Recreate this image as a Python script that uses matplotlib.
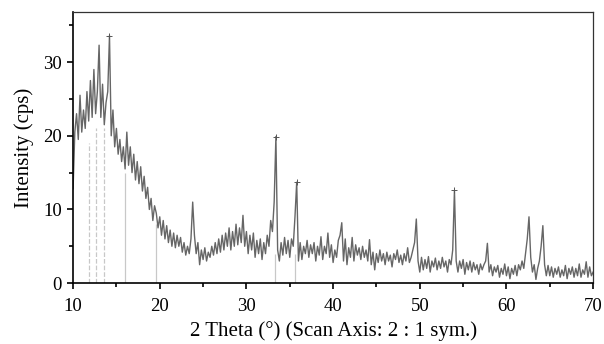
import numpy as np
import matplotlib
matplotlib.use('Agg')
import matplotlib.pyplot as plt
from matplotlib.ticker import MultipleLocator

plt.rcParams['font.family'] = ['Liberation Serif', 'DejaVu Serif']
plt.rcParams['font.size'] = 13.5

# 2 theta from 10 to 70 deg, 0.2 deg step
two_theta = np.round(np.arange(10.0, 70.0001, 0.2), 1)
intensity = [
    12.8, 20.5, 23.0, 19.5, 25.5, 20.5, 23.5, 21.0, 26.0, 22.0,
    27.5, 22.5, 29.0, 23.0, 26.0, 32.3, 22.5, 27.0, 21.5, 24.5,
    26.0, 33.6, 20.0, 23.5, 18.5, 21.0, 17.5, 19.5, 16.5, 18.5,
    15.5, 20.5, 16.0, 18.5, 15.0, 17.5, 14.0, 16.5, 13.5, 15.8,
    12.5, 14.5, 11.5, 13.0, 10.0, 11.5, 8.5, 10.5, 9.5, 7.5,
    9.0, 6.5, 8.5, 6.0, 7.8, 5.5, 7.2, 5.0, 6.8, 4.8,
    6.5, 5.0, 6.2, 4.2, 5.5, 3.8, 5.0, 4.0, 6.0, 11.0,
    6.5, 4.0, 5.5, 2.5, 4.5, 3.2, 4.8, 3.0, 4.2, 3.5,
    5.0, 3.8, 5.5, 4.0, 6.0, 4.2, 6.5, 4.5, 6.8, 5.0,
    7.5, 4.5, 7.0, 5.0, 8.0, 5.2, 7.5, 5.5, 9.2, 5.0,
    7.0, 4.0, 6.5, 4.5, 6.8, 3.5, 5.8, 4.0, 6.0, 3.2,
    5.5, 4.0, 6.5, 5.0, 8.5, 7.0, 11.0, 19.9, 4.5, 3.0,
    5.5, 3.8, 6.2, 4.0, 5.8, 3.5, 6.0, 5.0, 9.0, 13.7,
    3.0, 5.5, 3.2, 5.0, 4.0, 5.8, 3.5, 5.2, 4.0, 5.5,
    3.0, 5.0, 3.8, 6.3, 3.2, 5.0, 4.0, 6.8, 3.5, 5.2,
    2.8, 4.5, 3.5, 5.8, 6.5, 8.2, 3.0, 6.0, 2.5, 4.8,
    3.5, 6.2, 3.0, 5.2, 3.8, 4.8, 3.2, 5.0, 3.5, 4.5,
    3.0, 5.9, 2.5, 4.2, 1.8, 4.0, 2.8, 4.5, 3.0, 4.0,
    2.5, 4.2, 3.0, 3.8, 2.2, 4.0, 3.2, 4.5, 2.8, 3.8,
    2.5, 4.0, 3.0, 4.8, 2.8, 3.5, 4.5, 5.5, 8.7, 3.0,
    1.5, 3.5, 1.8, 3.2, 2.0, 3.6, 1.5, 3.0, 2.2, 3.4,
    1.8, 3.0, 2.0, 3.5, 2.2, 3.0, 1.5, 3.2, 2.5, 4.5,
    12.6, 3.0, 1.5, 3.0, 2.0, 3.2, 1.2, 2.8, 1.8, 3.0,
    1.5, 2.8, 1.8, 2.5, 1.2, 2.6, 1.8, 2.5, 3.0, 5.4,
    1.5, 2.5, 1.0, 2.2, 1.5, 2.4, 0.8, 2.0, 1.2, 2.6,
    1.0, 2.2, 0.6, 2.0, 1.2, 2.4, 1.0, 2.5, 1.8, 3.0,
    2.0, 4.0, 6.0, 9.0, 3.5, 1.5, 2.5, 0.5, 2.0, 3.0,
    5.0, 7.8, 2.5, 1.0, 2.4, 1.0, 2.2, 0.8, 2.0, 1.2,
    2.2, 0.8, 1.8, 1.0, 2.4, 0.6, 2.0, 1.2, 2.2, 0.8,
    2.0, 1.0, 2.6, 0.8, 1.8, 1.2, 2.9, 0.8, 2.2, 1.0,
    1.5,
]

# faint drop-out lines down to zero
drop_x = [11.8, 12.6, 13.6, 16.0, 19.6, 33.3, 35.6]
drop_top = [19.0, 21.0, 21.0, 15.0, 8.0, 4.0, 4.0]
drop_dashed = [True, True, True, False, False, False, False]

# peaks marked with a small cross
marked = [14.2, 33.4, 35.8, 54.0]

fig = plt.figure(figsize=(6.04, 3.44), dpi=100)
ax = fig.add_axes([0.121, 0.177, 0.861, 0.788])

for xv, top, dsh in zip(drop_x, drop_top, drop_dashed):
    ax.vlines(xv, 0, top, colors='#c8c8c8', lw=0.9,
              linestyles='--' if dsh else '-', zorder=1)

ax.plot(two_theta, intensity, color='#666666', lw=1.0, zorder=2)

idx = [int(np.argmin(np.abs(two_theta - m))) for m in marked]
ax.plot(two_theta[idx], np.array(intensity)[idx], '+', color='#555555',
        ms=4, mew=0.7, zorder=3)

ax.set_xlim(10, 70)
ax.set_ylim(0, 36.8)
ax.xaxis.set_major_locator(MultipleLocator(10))
ax.xaxis.set_minor_locator(MultipleLocator(5))
ax.yaxis.set_major_locator(MultipleLocator(10))
ax.yaxis.set_minor_locator(MultipleLocator(5))
ax.tick_params(which='major', direction='out', length=4, width=1.2,
               labelsize=13.5)
ax.tick_params(axis='x', which='major', pad=7)
ax.tick_params(axis='y', which='major', pad=4)
ax.tick_params(which='minor', direction='out', length=3, width=1.2)
ax.tick_params(top=False, right=False)

for side in ['left', 'bottom']:
    ax.spines[side].set_linewidth(1.2)
for side in ['top', 'right']:
    ax.spines[side].set_linewidth(0.9)
    ax.spines[side].set_color('#333333')

ax.set_xlabel('2 Theta (°) (Scan Axis: 2 : 1 sym.)', fontsize=15, labelpad=4)
ax.set_ylabel('Intensity (cps)', fontsize=15, labelpad=7)

fig.savefig('out.png', dpi=100)
